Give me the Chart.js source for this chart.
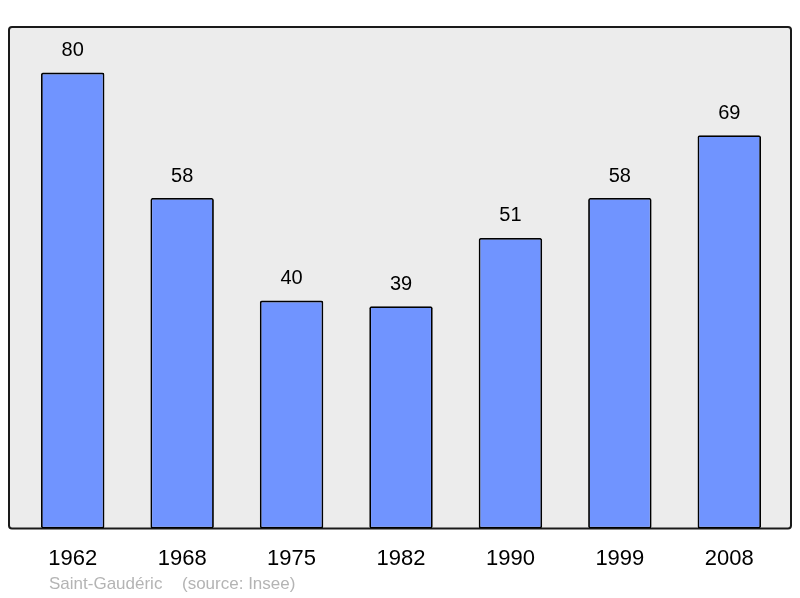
<!DOCTYPE html>
<html>
<head>
<meta charset="utf-8">
<script src="https://cdn.jsdelivr.net/npm/chart.js@4/dist/chart.umd.min.js"></script>
<style>
  html, body { margin: 0; padding: 0; background: #fff; }
  #wrap { width: 800px; height: 598px; }
</style>
</head>
<body>
<div id="wrap"><canvas id="popChart" width="800" height="598"></canvas></div>
<script>
const years = ['1962', '1968', '1975', '1982', '1990', '1999', '2008'];
const population = [80, 58, 40, 39, 51, 58, 69];
const townName = 'Saint-Gaudéric';
const sourceText = '(source: Insee)';

// grey frame behind the bars
const frame = {
    id: 'frame',
    beforeDraw(chart) {
        const { ctx, chartArea } = chart;
        const x = chartArea.left - 9, y = chartArea.top;
        const w = chartArea.right - chartArea.left + 16, h = chartArea.bottom - chartArea.top;
        ctx.save();
        ctx.beginPath();
        ctx.roundRect(x, y, w, h, 3);
        ctx.fillStyle = '#ececec';
        ctx.fill();
        ctx.lineWidth = 2;
        ctx.strokeStyle = '#1a1a1a';
        ctx.stroke();
        ctx.restore();
    },
    afterDraw(chart) {
        const { ctx } = chart;
        ctx.save();
        ctx.font = '17px "Liberation Sans", Arial, sans-serif';
        ctx.fillStyle = '#b4b4b4';
        ctx.textBaseline = 'middle';
        ctx.fillText(townName, 49, 584);
        ctx.fillText(sourceText, 182, 584);
        ctx.restore();
    }
};

// value over each bar
const valueLabels = {
    id: 'valueLabels',
    afterDatasetsDraw(chart) {
        const { ctx } = chart;
        const meta = chart.getDatasetMeta(0);
        ctx.save();
        ctx.font = '20px "Liberation Sans", Arial, sans-serif';
        ctx.fillStyle = '#000';
        ctx.textAlign = 'center';
        ctx.textBaseline = 'middle';
        meta.data.forEach((bar, i) => {
            ctx.fillText(population[i], bar.x, bar.y - 22);
        });
        ctx.restore();
    }
};

new Chart(document.getElementById('popChart'), {
    type: 'bar',
    data: {
        labels: years,
        datasets: [{
            data: population,
            backgroundColor: '#7094ff',
            borderColor: '#000',
            borderWidth: 1.8,
            borderRadius: 2,
            borderSkipped: false,
            barPercentage: 0.58,
            categoryPercentage: 1
        }]
    },
    options: {
        responsive: false,
        animation: false,
        layout: { padding: { left: 18, right: 16, top: 27, bottom: 17 } },
        plugins: {
            legend: { display: false },
            tooltip: { enabled: false }
        },
        scales: {
            x: {
                grid: { display: false },
                border: { display: false },
                ticks: {
                    color: '#000',
                    padding: 9,
                    font: { family: '"Liberation Sans", Arial, sans-serif', size: 22 }
                }
            },
            y: {
                display: false,
                min: 0,
                max: 88
            }
        }
    },
    plugins: [frame, valueLabels]
});
</script>
</body>
</html>
